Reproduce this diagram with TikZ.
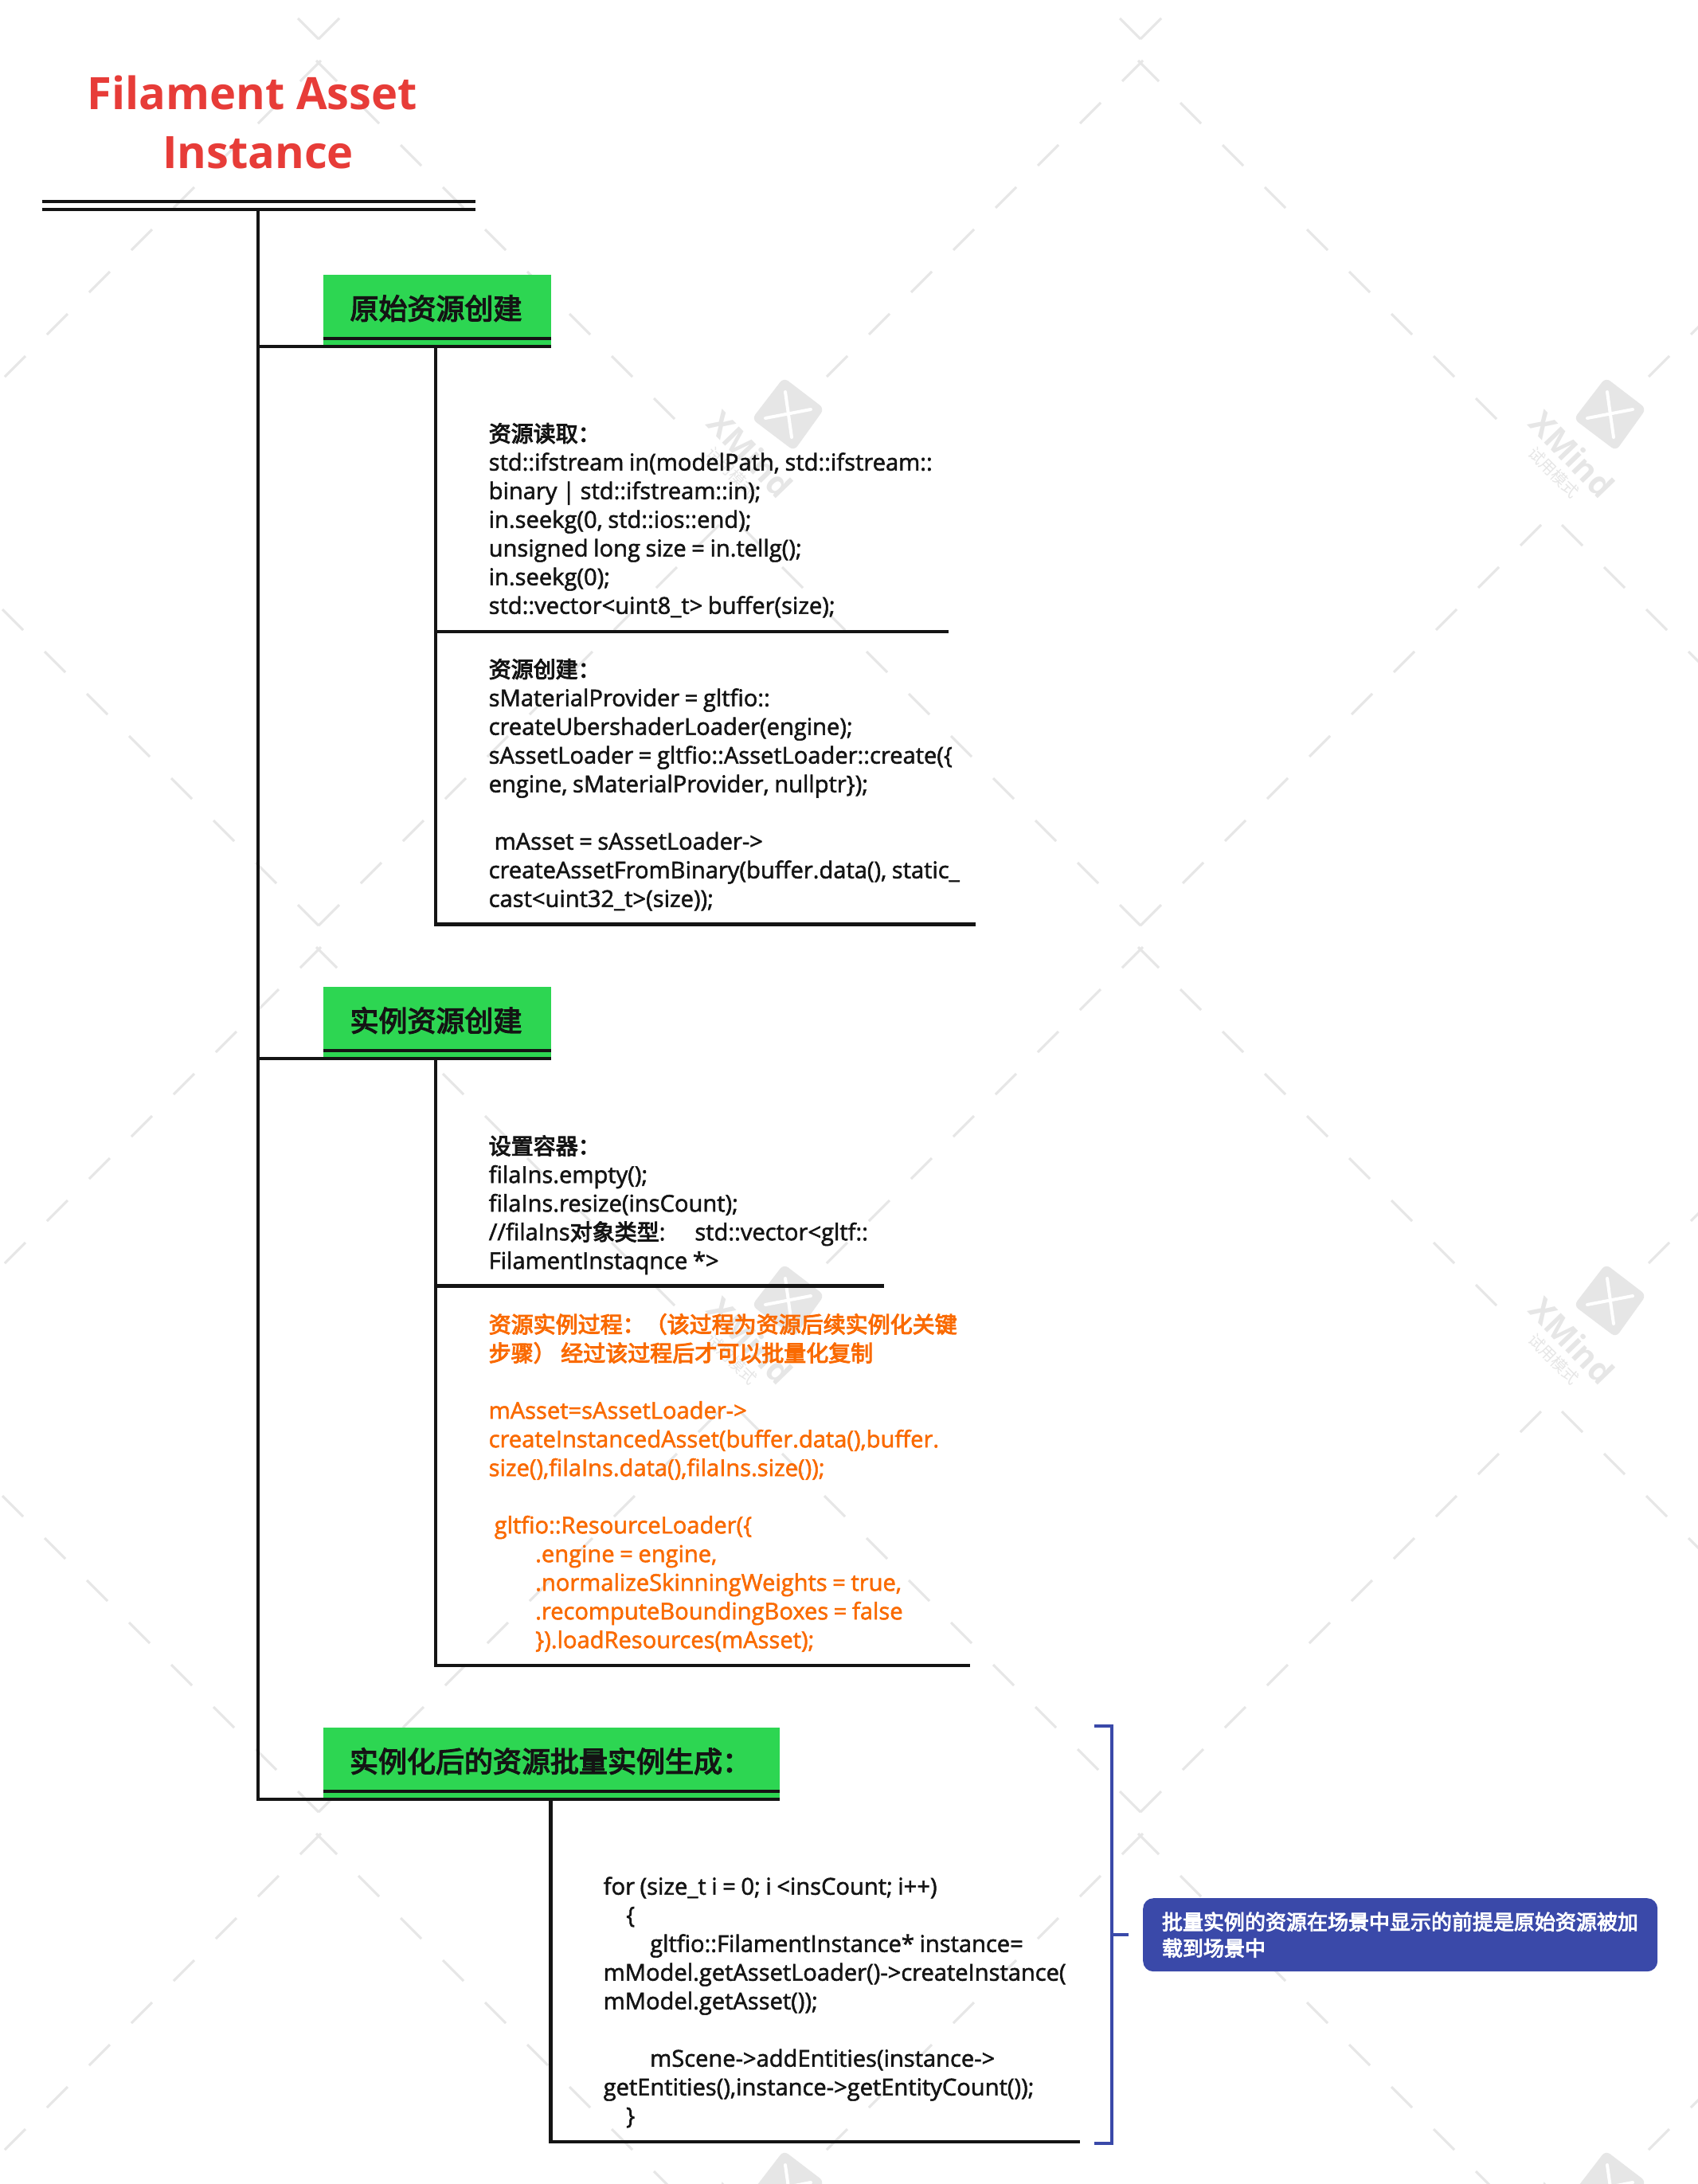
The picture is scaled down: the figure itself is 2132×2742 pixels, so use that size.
\documentclass[tikz,border=0pt]{standalone}
\usepackage{fontspec}
\setmainfont{Open Sans}
\newfontfamily\bodyfont[FakeBold=1.8,WordSpace=0.87]{Open Sans}
\newfontfamily\cjk{Noto Sans CJK SC}
\newfontfamily\cjkm[FakeBold=3.6]{Noto Sans CJK SC}
\newcommand{\zh}[1]{{\cjkm #1}}
\newcommand{\zb}[1]{{\fontsize{28}{36}\selectfont\cjkm #1}}
\newcommand{\firstline}{\rule{0pt}{30pt}}
\definecolor{inkc}{HTML}{141414}
\definecolor{greenc}{HTML}{2DD652}
\definecolor{redc}{HTML}{E73C38}
\definecolor{orangec}{HTML}{FA6A00}
\definecolor{bluec}{HTML}{3A49A9}
\definecolor{wmc}{HTML}{E6E6E6}
\tikzset{
  x=1pt,y=-1pt,
  wm/.style={draw=wmc,line width=3pt},
  branch/.style={draw=inkc,line width=4.2pt},
  header/.style={fill=greenc,anchor=north west,inner sep=0pt,minimum height=92pt,
    text=inkc,font=\fontsize{36}{44}\selectfont},
  bodytext/.style={anchor=north west,inner sep=0pt,align=left,text=inkc,
    font=\fontsize{29.1}{36}\selectfont\bodyfont},
  orangetext/.style={bodytext,text=orangec},
  bracketline/.style={draw=bluec,line width=4pt},
}
\begin{document}
\begin{tikzpicture}
\useasboundingbox (0,0) rectangle (2132,2742);
\fill[white] (0,0) rectangle (2132,2742);
% watermark lattice
\foreach \cx in {400,1432,2464} {
  \foreach \j in {0,1,2} {
    \pgfmathsetmacro{\ay}{79+1113*\j}
    \pgfmathsetmacro{\vy}{49+1113*\j}
    \foreach \k in {0,...,8} {
      \draw[wm] ({\cx+53*\k-3},{\ay+53*\k-3}) -- ++(26,26);
    }
    \foreach \k in {0,...,7} {
      \draw[wm] ({\cx-53*\k+3},{\ay+53*\k-3}) -- ++(-26,26);
    }
    \foreach \k in {0,...,9} {
      \draw[wm] ({\cx+53*\k},{\vy-53*\k}) -- ++(26,-26);
      \draw[wm] ({\cx-53*\k},{\vy-53*\k}) -- ++(-26,-26);
    }
  }
}
% watermark logos
\foreach \lx in {989,2021} {
  \foreach \ly in {520,1633,2746} {
    \begin{scope}[shift={(\lx,\ly)}]
      \fill[wmc,rounded corners=7pt] (-5,-46) -- (46,-7) -- (8,46) -- (-45,6) -- cycle;
      \draw[white,line width=4pt,line cap=round] (-3,-28) -- (5,29);
      \draw[white,line width=4pt,line cap=round] (-28,5) -- (29,-6);
      \node[rotate=-46,text=wmc,inner sep=0pt,font=\fontsize{41}{41}\selectfont\bfseries] at (-47,50) {XMind};
      \node[rotate=-45,text=wmc,inner sep=0pt,font=\fontsize{20}{20}\selectfont\cjk] at (-70,73) {试用模式};
    \end{scope}
  }
}
% title
\node[anchor=center,inner sep=0pt,align=center,text=redc,
  font=\fontsize{56}{74}\selectfont\bfseries] (title) at (324,153) {Filament Asset\hspace*{14pt}\\Instance};
\coordinate (rootL) at (52.5,253);
\coordinate (rootR) at (596.5,253);
\coordinate (rootL2) at (52.5,263);
\coordinate (rootR2) at (596.5,263);
\coordinate (trunk) at (324,263);
% headers
\node[header,minimum width=286.5pt] (h1) at (405.5,345) {\raisebox{11pt}{\zh{原始资源创建}}\hspace*{3pt}};
\node[header,minimum width=286.5pt] (h2) at (405.5,1239) {\raisebox{11pt}{\zh{实例资源创建}}\hspace*{3pt}};
\node[header,minimum width=573.5pt] (h3) at (405.5,2169) {\raisebox{11pt}{\zh{实例化后的资源批量实例生成：}}\hspace*{3pt}};
\coordinate (h1a) at (405.5,425); \coordinate (h1b) at (692,425);
\coordinate (h2a) at (405.5,1319); \coordinate (h2b) at (692,1319);
\coordinate (h3a) at (405.5,2249); \coordinate (h3b) at (979,2249);
\coordinate (h1c) at (692,434.7);
\coordinate (h2c) at (692,1329);
\coordinate (h3c) at (977,2259);
\coordinate (s1) at (547,434.7);
\coordinate (s2) at (547,1329);
\coordinate (s3) at (691.5,2259);
\coordinate (e1a) at (1191,793);
\coordinate (e1b) at (1223,1160.5);
\coordinate (e2a) at (1110,1614.5);
\coordinate (e2b) at (1216,2091);
\coordinate (e3) at (1354,2689);
% text blocks
\node[bodytext] (t1a) at (613.5,524.5) {\firstline\zb{资源读取：}\\
std::ifstream in(modelPath, std::ifstream::\\
binary | std::ifstream::in);\\
in.seekg(0, std::ios::end);\\
unsigned long size = in.tellg();\\
in.seekg(0);\\
std::vector<uint8\_t> buffer(size);};
\node[bodytext] (t1b) at (613.5,820.5) {\firstline\zb{资源创建：}\\
sMaterialProvider = gltfio::\\
createUbershaderLoader(engine);\\
sAssetLoader = gltfio::AssetLoader::create(\{\\
engine, sMaterialProvider, nullptr\});\\
\mbox{}\\
\hspace*{7pt}mAsset = sAssetLoader->\\
createAssetFromBinary(buffer.data(), static\_\\
cast<uint32\_t>(size));};
\node[bodytext] (t2a) at (613.5,1419) {\firstline\zb{设置容器：}\\
filaIns.empty();\\
filaIns.resize(insCount);\\
//filaIns\zb{对象类型}:\hspace*{37pt}std::vector<gltf::\\
FilamentInstaqnce *>};
\node[orangetext] (t2b) at (613.5,1643) {\firstline\zb{资源实例过程：（该过程为资源后续实例化关键}\\
\zb{步骤）} \zb{经过该过程后才可以批量化复制}\\
\mbox{}\\
mAsset=sAssetLoader->\\
createInstancedAsset(buffer.data(),buffer.\\
size(),filaIns.data(),filaIns.size());\\
\mbox{}\\
\hspace*{7pt}gltfio::ResourceLoader(\{\\
\hspace*{58.5pt}.engine = engine,\\
\hspace*{58.5pt}.normalizeSkinningWeights = true,\\
\hspace*{58.5pt}.recomputeBoundingBoxes = false\\
\hspace*{58.5pt}\}).loadResources(mAsset);};
\node[bodytext] (t3) at (757.5,2348.5) {\firstline for (size\_t i = 0; i <insCount; i++)\\
\hspace*{28.5pt}\{\\
\hspace*{58.5pt}gltfio::FilamentInstance* instance=\\
mModel.getAssetLoader()->createInstance(\\
mModel.getAsset());\\
\mbox{}\\
\hspace*{58.5pt}mScene->addEntities(instance->\\
getEntities(),instance->getEntityCount());\\
\hspace*{28.5pt}\}};
% summary note
\node[fill=bluec,rounded corners=13pt,anchor=north west,inner xsep=23.75pt,inner ysep=0pt,
  minimum height=92pt,text width=598.5pt,align=left,text=white,
  font=\fontsize{26}{33}\selectfont] (note) at (1435,2383)
  {\zh{批量实例的资源在场景中显示的前提是原始资源被加}\\\zh{载到场景中}};
% connectors
\draw[branch] (rootL) -- (rootR);
\draw[branch] (rootL2) -- (rootR2);
\draw[branch,line cap=rect] (trunk) -- (trunk |- h3c) -- (h3c);
\draw[branch] (trunk |- h1c) -- (h1c);
\draw[branch] (trunk |- h2c) -- (h2c);
\draw[branch] (h1a) -- (h1b);
\draw[branch] (h2a) -- (h2b);
\draw[branch] (h3a) -- (h3b);
\draw[branch,line cap=rect] (s1) -- (s1 |- e1b) -- (e1b);
\draw[branch] (s1 |- e1a) -- (e1a);
\draw[branch,line cap=rect] (s2) -- (s2 |- e2b) -- (e2b);
\draw[branch] (s2 |- e2a) -- (e2a);
\draw[branch,line cap=rect] (s3) -- (s3 |- e3) -- (e3);
% bracket
\coordinate (bTop) at (1374,2167);
\coordinate (bBot) at (1374,2691);
\coordinate (bSpine) at (1395.5,2429);
\coordinate (bStub) at (1417,2429);
\draw[bracketline] (bTop) -| (bSpine) |- (bBot);
\draw[bracketline] (bSpine) -- (bStub);
\end{tikzpicture}
\end{document}
